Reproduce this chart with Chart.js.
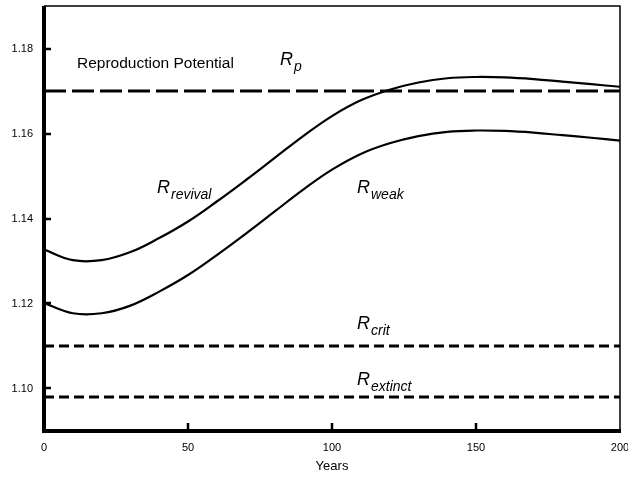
<!DOCTYPE html>
<html>
<head>
<meta charset="utf-8">
<script src="https://cdn.jsdelivr.net/npm/chart.js@4/dist/chart.umd.min.js"></script>
<style>
  html, body { margin: 0; padding: 0; background: #fff; }
  #wrap { width: 628px; height: 480px; }
</style>
</head>
<body>
<div id="wrap"><canvas id="rChart" width="628" height="480"></canvas></div>
<script>
// chart data
const years = [0, 10, 20, 30, 40, 50, 60, 70, 80, 90, 100, 110, 120, 130, 140, 150, 160, 170, 180, 190, 200];
const rRevival = [1.1327, 1.1302, 1.1302, 1.1321, 1.1354, 1.1393, 1.1440, 1.1490, 1.1542, 1.1594, 1.1641,
                  1.1678, 1.1703, 1.1720, 1.1730, 1.1733, 1.1732, 1.1728, 1.1722, 1.1716, 1.1710];
const rWeak = [1.1201, 1.1177, 1.1177, 1.1195, 1.1228, 1.1267, 1.1314, 1.1364, 1.1416, 1.1468, 1.1515,
               1.1552, 1.1577, 1.1594, 1.1604, 1.1607, 1.1606, 1.1602, 1.1596, 1.1590, 1.1583];

// constant levels
const levelYears = [0, 200];
const rPotential = [1.170, 1.170];
const rCrit = [1.110, 1.110];
const rExtinct = [1.098, 1.098];

const xTicks = [0, 50, 100, 150, 200];
const yTicks = [1.10, 1.12, 1.14, 1.16, 1.18];

const FONT = "'Liberation Sans', Arial, sans-serif";

function toPoints(xs, ys) {
    return xs.map((x, i) => ({ x: x, y: ys[i] }));
}

// draws R with italic subscript
function drawR(ctx, x, y, sub) {
    ctx.font = "italic 18px " + FONT;
    ctx.fillText("R", x, y);
    const w = ctx.measureText("R").width;
    ctx.font = "italic 14px " + FONT;
    ctx.fillText(sub, x + w + 1, y + 6);
}

const framePlugin = {
    id: 'frame',
    afterDraw(chart) {
        const ctx = chart.ctx;
        const a = chart.chartArea;
        const xs = chart.scales.x;
        const ys = chart.scales.y;
        ctx.save();
        ctx.strokeStyle = '#000';
        ctx.lineCap = 'butt';

        // thin top and right
        ctx.lineWidth = 1.5;
        ctx.beginPath();
        ctx.moveTo(a.left, a.top);
        ctx.lineTo(a.right, a.top);
        ctx.lineTo(a.right, a.bottom);
        ctx.stroke();

        // thick left and bottom
        ctx.lineWidth = 4;
        ctx.beginPath();
        ctx.moveTo(a.left, a.top);
        ctx.lineTo(a.left, a.bottom);
        ctx.lineTo(a.right + 1, a.bottom);
        ctx.stroke();

        // inward ticks
        ctx.lineWidth = 2.5;
        ctx.beginPath();
        yTicks.forEach(v => {
            const py = Math.round(ys.getPixelForValue(v));
            ctx.moveTo(a.left, py);
            ctx.lineTo(a.left + 7, py);
        });
        xTicks.slice(1, -1).forEach(v => {
            const px = Math.round(xs.getPixelForValue(v));
            ctx.moveTo(px, a.bottom);
            ctx.lineTo(px, a.bottom - 8);
        });
        ctx.stroke();

        // texts
        ctx.fillStyle = '#000';
        ctx.textBaseline = 'alphabetic';
        ctx.textAlign = 'left';
        ctx.font = "15.5px " + FONT;
        ctx.fillText("Reproduction Potential", 77, 68);
        drawR(ctx, 280, 65, "p");
        drawR(ctx, 157, 193, "revival");
        drawR(ctx, 357, 193, "weak");
        drawR(ctx, 357, 329, "crit");
        drawR(ctx, 357, 385, "extinct");

        ctx.font = "13px " + FONT;
        ctx.textAlign = 'center';
        ctx.textBaseline = 'middle';
        ctx.fillText("Years", (a.left + a.right) / 2, 466);
        ctx.restore();
    }
};

const curveStyle = {
    borderColor: '#000',
    borderWidth: 2.2,
    pointRadius: 0,
    fill: false,
    tension: 0.4
};

const chartData = {
    datasets: [
        Object.assign({ label: 'R revival', data: toPoints(years, rRevival) }, curveStyle),
        Object.assign({ label: 'R weak', data: toPoints(years, rWeak) }, curveStyle),
        { label: 'R p', data: toPoints(levelYears, rPotential), borderColor: '#000', borderWidth: 3,
          borderDash: [22, 6], pointRadius: 0, fill: false },
        { label: 'R crit', data: toPoints(levelYears, rCrit), borderColor: '#000', borderWidth: 3,
          borderDash: [10, 5], pointRadius: 0, fill: false },
        { label: 'R extinct', data: toPoints(levelYears, rExtinct), borderColor: '#000', borderWidth: 3,
          borderDash: [10, 5], pointRadius: 0, fill: false }
    ]
};

const config = {
    type: 'line',
    data: chartData,
    options: {
        responsive: false,
        animation: false,
        layout: { padding: { top: 6, right: 8, bottom: 0, left: 0 } },
        plugins: {
            legend: { display: false },
            tooltip: { enabled: false }
        },
        scales: {
            x: {
                type: 'linear',
                min: 0,
                max: 200,
                grid: { display: false, drawTicks: false },
                border: { display: false },
                afterBuildTicks: s => { s.ticks = xTicks.map(v => ({ value: v })); },
                afterFit: s => { s.height = 49; s.paddingLeft = 0; s.paddingRight = 0; },
                ticks: {
                    color: '#000',
                    padding: 10,
                    maxRotation: 0,
                    font: { family: FONT, size: 11 },
                    callback: v => String(v)
                }
            },
            y: {
                min: 1.09,
                max: 1.19,
                grid: { display: false, drawTicks: false },
                border: { display: false },
                afterBuildTicks: s => { s.ticks = yTicks.map(v => ({ value: v })); },
                afterFit: s => { s.width = 44; s.paddingTop = 0; s.paddingBottom = 0; },
                ticks: {
                    color: '#000',
                    padding: 11,
                    font: { family: FONT, size: 11 },
                    callback: v => Number(v).toFixed(2)
                }
            }
        }
    },
    plugins: [framePlugin]
};

const ctx = document.getElementById("rChart").getContext("2d");
const chartInstance = new Chart(ctx, config);
</script>
</body>
</html>
